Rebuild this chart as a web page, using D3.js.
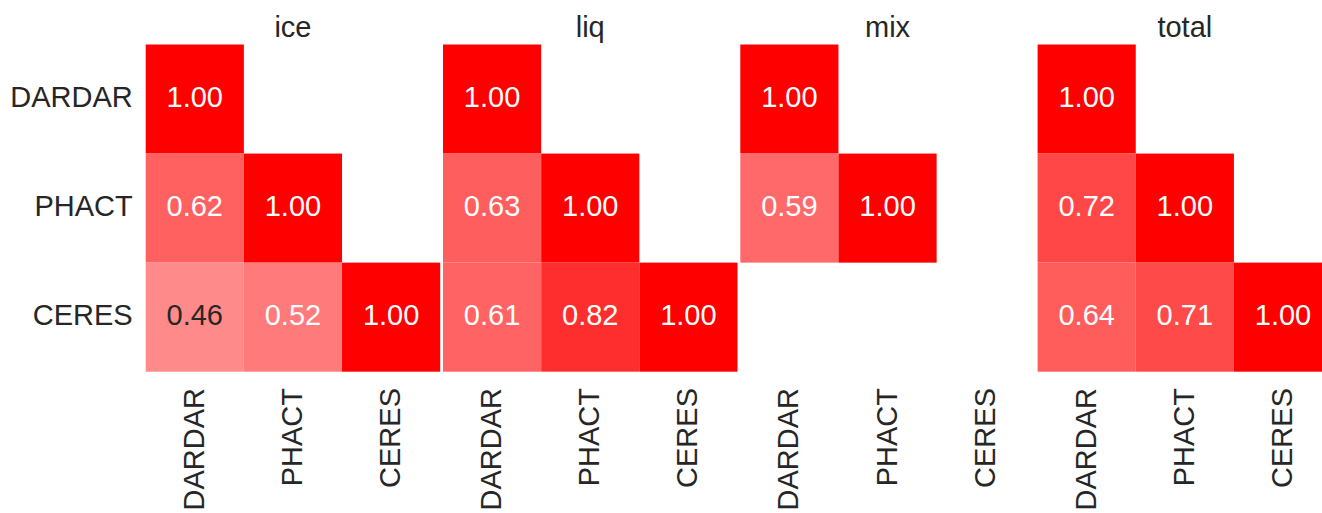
<!DOCTYPE html>
<html>
<head>
<meta charset="utf-8">
<script src="https://cdn.jsdelivr.net/npm/d3@7"></script>
<style>
  html, body { margin: 0; padding: 0; background: #fff; overflow: hidden; }
  svg { display: block; font-family: "Liberation Sans", Arial, sans-serif; }
</style>
</head>
<body>
<svg id="chart" width="1322" height="513"></svg>
<script>
// ---- data ----
const panels = ["ice", "liq", "mix", "total"];
const sources = ["DARDAR", "PHACT", "CERES"];
// lower-triangular correlation matrices, row-major (row = y source, col = x source); null = masked
const iceValues   = [[1.00, null, null], [0.62, 1.00, null], [0.46, 0.52, 1.00]];
const liqValues   = [[1.00, null, null], [0.63, 1.00, null], [0.61, 0.82, 1.00]];
const mixValues   = [[1.00, null, null], [0.59, 1.00, null], [null, null, null]];
const totalValues = [[1.00, null, null], [0.72, 1.00, null], [0.64, 0.71, 1.00]];
const panelValues = [iceValues, liqValues, mixValues, totalValues];

// ---- layout ----
const svg = d3.select("#chart");
const textColor = "#262626";
const fontSize = 29;

const px = d3.scaleBand().domain(panels).range([145.7, 1332.1]).paddingInner(0.0094);
const x = d3.scaleBand().domain(sources).range([0, px.bandwidth()]);
const y = d3.scaleBand().domain(sources).range([44.5, 371.7]);
const color = d3.scaleLinear().domain([0, 1]).range(["#ffffff", "#ff0000"]).interpolate(d3.interpolateRgb);

function relLum(c) {
  const rgb = d3.rgb(c);
  const f = v => { v /= 255; return v <= 0.03928 ? v / 12.92 : Math.pow((v + 0.055) / 1.055, 2.4); };
  return 0.2126 * f(rgb.r) + 0.7152 * f(rgb.g) + 0.0722 * f(rgb.b);
}

panels.forEach((p, pi) => {
  const g = svg.append("g").attr("transform", `translate(${px(p)},0)`);
  const cells = [];
  panelValues[pi].forEach((row, ri) => row.forEach((v, ci) => {
    if (v !== null) cells.push({ row: sources[ri], col: sources[ci], v });
  }));

  g.selectAll("rect").data(cells).join("rect")
    .attr("x", d => x(d.col))
    .attr("y", d => y(d.row))
    .attr("width", x.bandwidth())
    .attr("height", y.bandwidth())
    .attr("fill", d => color(d.v));

  g.selectAll("text.annot").data(cells).join("text")
    .attr("class", "annot")
    .attr("x", d => x(d.col) + x.bandwidth() / 2)
    .attr("y", d => y(d.row) + y.bandwidth() / 2 - 2)
    .attr("text-anchor", "middle")
    .attr("dominant-baseline", "central")
    .attr("font-size", fontSize)
    .attr("fill", d => relLum(color(d.v)) > 0.408 ? textColor : "#ffffff")
    .text(d => d3.format(".2f")(d.v));

  // title
  g.append("text")
    .attr("x", px.bandwidth() / 2)
    .attr("y", 37)
    .attr("text-anchor", "middle")
    .attr("font-size", fontSize)
    .attr("fill", textColor)
    .text(p);

  // x tick labels (rotated)
  g.selectAll("text.xlab").data(sources).join("text")
    .attr("class", "xlab")
    .attr("transform", d => `translate(${x(d) + x.bandwidth() / 2 - 1},388) rotate(-90)`)
    .attr("text-anchor", "end")
    .attr("dominant-baseline", "central")
    .attr("font-size", fontSize)
    .attr("fill", textColor)
    .text(d => d);

  // y tick labels only on first panel
  if (pi === 0) {
    g.selectAll("text.ylab").data(sources).join("text")
      .attr("class", "ylab")
      .attr("x", -13)
      .attr("y", d => y(d) + y.bandwidth() / 2 - 2)
      .attr("text-anchor", "end")
      .attr("dominant-baseline", "central")
      .attr("font-size", fontSize)
      .attr("fill", textColor)
      .text(d => d);
  }
});
</script>
</body>
</html>
